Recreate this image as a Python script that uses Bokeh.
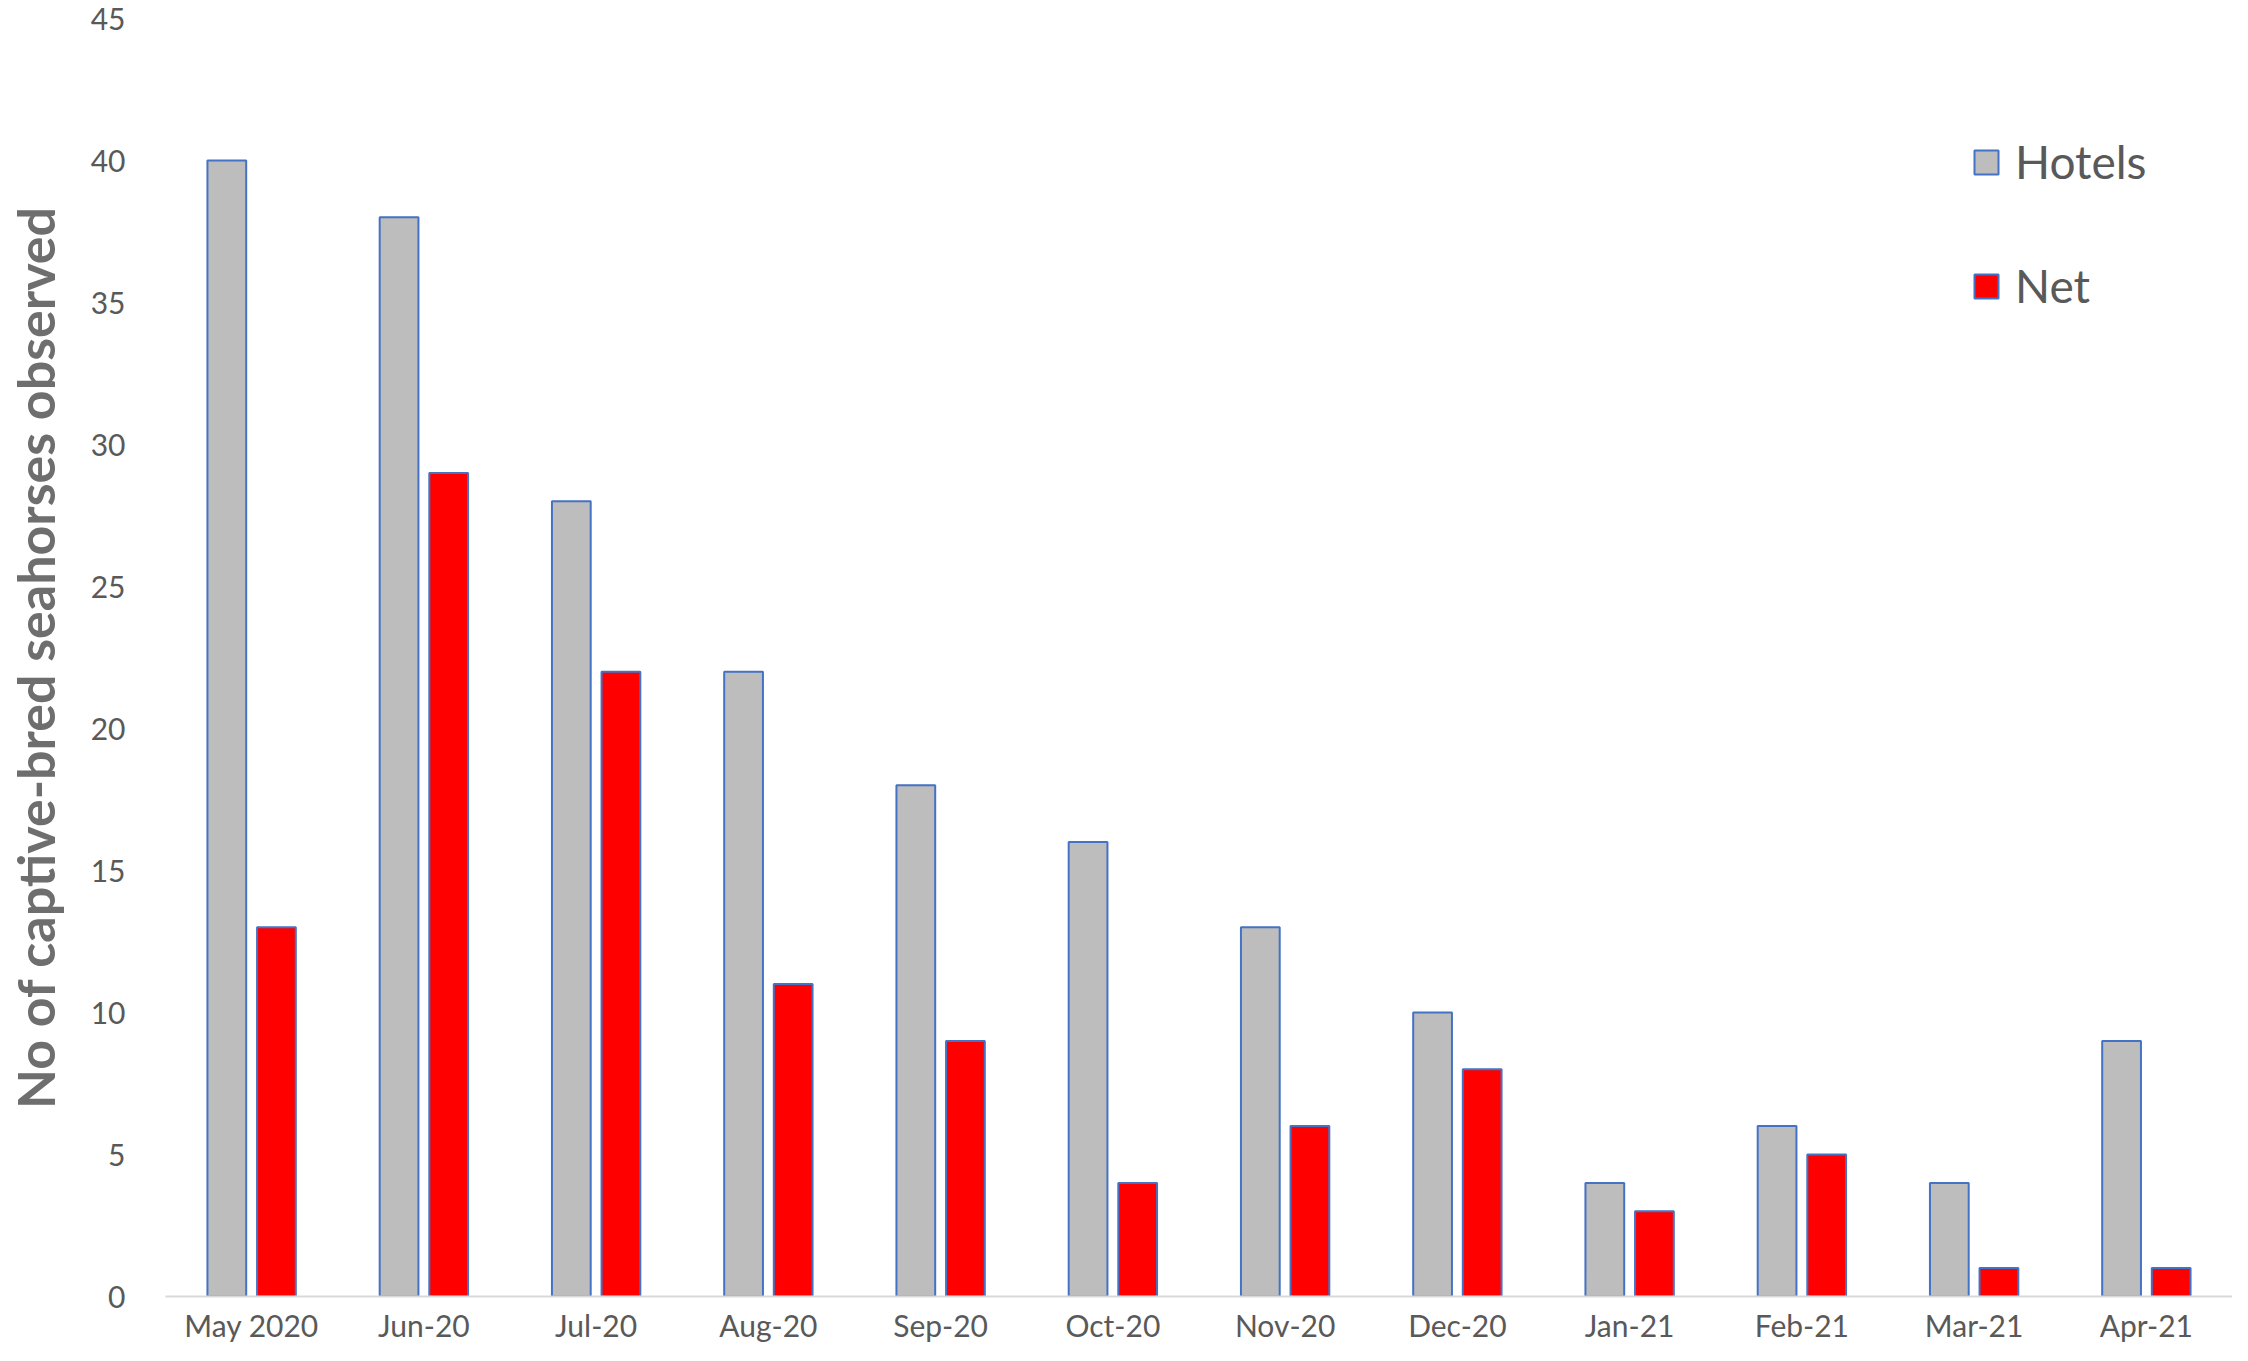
from bokeh.plotting import figure
from bokeh.models import FactorRange, Range1d, Legend, LegendItem, ColumnDataSource
from bokeh.transform import dodge
from bokeh.embed import file_html
from bokeh.resources import INLINE

months = ["May 2020", "Jun-20", "Jul-20", "Aug-20", "Sep-20", "Oct-20",
          "Nov-20", "Dec-20", "Jan-21", "Feb-21", "Mar-21", "Apr-21"]
hotels = [40, 38, 28, 22, 18, 16, 13, 10, 4, 6, 4, 9]
net = [13, 29, 22, 11, 9, 4, 6, 8, 3, 5, 1, 1]
y_ticks = [0, 5, 10, 15, 20, 25, 30, 35, 40, 45]

FONT = "Lato"
GRAY_TXT = "#595959"

src = ColumnDataSource(dict(month=months, hotels=hotels, net=net))

p = figure(x_range=FactorRange(*months), y_range=Range1d(0, 45),
           width=2232, height=1345, output_backend="svg", toolbar_location=None,
           min_border_left=160, min_border_right=0, min_border_top=18,
           min_border_bottom=30)
p.outline_line_color = None
p.xgrid.grid_line_color = None
p.ygrid.grid_line_color = None
p.background_fill_color = "white"
p.border_fill_color = "white"

r1 = p.vbar(x=dodge("month", -0.144, range=p.x_range), top="hotels", width=0.225,
            source=src, fill_color="#BDBDBD", line_color="#4472C4", line_width=2)
r2 = p.vbar(x=dodge("month", 0.144, range=p.x_range), top="net", width=0.225,
            source=src, fill_color="#FF0000", line_color="#4472C4", line_width=2)

p.yaxis.ticker = y_ticks
p.yaxis.axis_line_color = None
p.yaxis.major_tick_line_color = None
p.yaxis.minor_tick_line_color = None
p.yaxis.major_label_text_font = FONT
p.yaxis.major_label_text_font_size = "30px"
p.yaxis.major_label_text_color = GRAY_TXT
p.yaxis.major_label_standoff = 34
p.yaxis.axis_label = "No of captive-bred seahorses observed"
p.yaxis.axis_label_text_font = FONT
p.yaxis.axis_label_text_font_style = "bold"
p.yaxis.axis_label_text_font_size = "52px"
p.yaxis.axis_label_text_color = "#6E6E6E"
p.yaxis.axis_label_standoff = 22

p.xaxis.axis_line_color = "#D9D9D9"
p.xaxis.axis_line_width = 2
p.xaxis.major_tick_line_color = None
p.xaxis.minor_tick_line_color = None
p.xaxis.major_label_text_font = FONT
p.xaxis.major_label_text_font_size = "30px"
p.xaxis.major_label_text_color = GRAY_TXT
p.xaxis.major_label_standoff = 4
p.x_range.range_padding = 0
p.x_range.group_padding = 0

legend = Legend(items=[LegendItem(label="Hotels", renderers=[r1]),
                       LegendItem(label="Net", renderers=[r2])],
                location=(1806, 983), orientation="vertical")
legend.label_text_font = FONT
legend.label_text_font_size = "46px"
legend.label_text_color = GRAY_TXT
legend.glyph_width = 30
legend.glyph_height = 30
legend.label_standoff = 14
legend.spacing = 69
legend.padding = 0
legend.margin = 0
legend.border_line_color = None
legend.background_fill_alpha = 0
p.add_layout(legend, "center")

open("out.html", "w").write(file_html(p, INLINE))
